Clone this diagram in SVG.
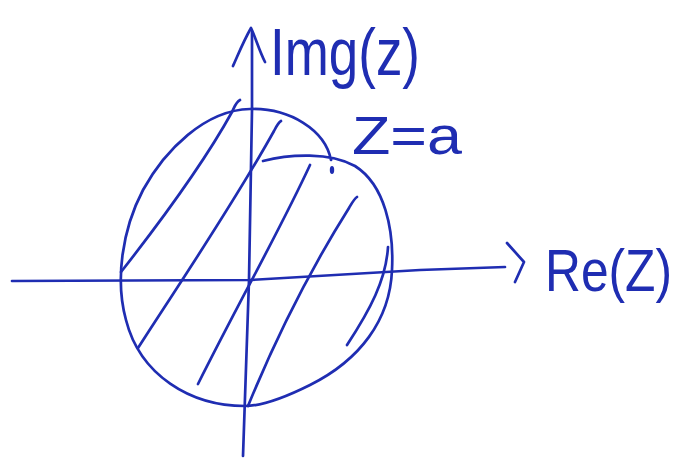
<svg xmlns="http://www.w3.org/2000/svg" width="681" height="459" viewBox="0 0 681 459">
<style>
.ink{fill:none;stroke:#1f2db2;stroke-width:2.7;stroke-linecap:round;stroke-linejoin:round}
.lbl{fill:#1f2db2;font-family:"Liberation Sans","DejaVu Sans",sans-serif;font-weight:normal}
</style>
<rect width="681" height="459" fill="#ffffff"/>
<g id="region">
<path class="ink" d="M263,161 C290,154 330,152 355,166 C385,185 394,230 392,270 C390,320 360,360 310,385 C280,400 260,406 245,406 C190,406 140,375 126,320 C115,280 122,230 143,190 C165,150 205,110 250,109 C290,108 325,130 331,160"/>
<ellipse cx="332" cy="170" rx="2.2" ry="4" fill="#1f2db2"/>
<path class="ink" d="M240,100 C236,102 235,106 232,112 C200,170 150,235 121,272"/>
<path class="ink" d="M281,121 C279,122 277,125 274,131 C230,210 175,290 138,348"/>
<path class="ink" d="M310,165 C280,230 240,300 198,384"/>
<path class="ink" d="M357,197 C354,199 352,203 349,208 C310,270 275,340 248,406"/>
<path class="ink" d="M388,247 C386,280 370,310 347,345"/>
</g>
<g id="connectors">
<path class="ink" d="M243,456 L249,280 L252,110 L252,32"/>
<path class="ink" d="M233,66 C238,55 243,42 251,28 C255,36 259,50 265,62"/>
<path class="ink" d="M12,281 L250,280 L420,270 L505,267"/>
<path class="ink" d="M507,243 L524,262 L515,282"/>
</g>
<g id="label-img">
<text class="lbl" x="270" y="75" font-size="66" textLength="150" lengthAdjust="spacingAndGlyphs">Img(z)</text>
</g>
<g id="label-za">
<text class="lbl" x="352" y="154" font-size="54" textLength="110" lengthAdjust="spacingAndGlyphs">Z=a</text>
</g>
<g id="label-re">
<text class="lbl" x="545" y="291" font-size="60" textLength="127" lengthAdjust="spacingAndGlyphs">Re(Z)</text>
</g>
</svg>
